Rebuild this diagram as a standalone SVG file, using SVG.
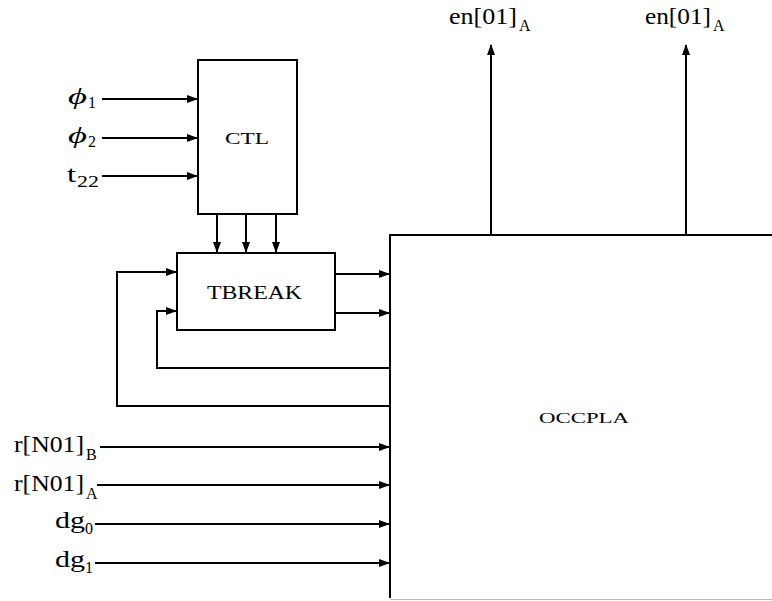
<svg xmlns="http://www.w3.org/2000/svg" width="772" height="601" viewBox="0 0 772 601">
<style>
.box{fill:#fff;stroke:#000;stroke-width:2}
.w{fill:none;stroke:#000;stroke-width:2}
.a{fill:none;stroke:#000;stroke-width:2;marker-end:url(#ah)}
text{font-family:"Liberation Serif","DejaVu Serif",serif;fill:#000}
.lbl{font-size:23px}
.sub{font-size:16px}
.nm{font-size:16px}
</style>
<defs>
<marker id="ah" markerUnits="userSpaceOnUse" markerWidth="11" markerHeight="8" refX="10" refY="4" orient="auto">
<path d="M0,0 L11,4 L0,8 z" fill="#000"/>
</marker>
</defs>
<rect width="772" height="601" fill="#fff"/>
<g id="connectors">
<path class="a" d="M102,99 H197"/>
<path class="a" d="M102,138 H197"/>
<path class="a" d="M102,176 H197"/>
<path class="a" d="M217,214 V252"/>
<path class="a" d="M246,214 V252"/>
<path class="a" d="M276,214 V252"/>
<path class="a" d="M335,274 H389"/>
<path class="a" d="M335,313 H389"/>
<path class="a" d="M390,406 H117 V272 H176"/>
<path class="a" d="M390,368 H157 V311 H176"/>
<path class="a" d="M100,447 H389"/>
<path class="a" d="M97,485 H389"/>
<path class="a" d="M95,524 H389"/>
<path class="a" d="M95,563 H389"/>
<path class="a" d="M491,235 V45"/>
<path class="a" d="M686,235 V45"/>
</g>
<g id="CTL">
<rect class="box" x="198" y="60" width="99" height="154"/>
<text class="nm" x="225" y="144" textLength="44" lengthAdjust="spacingAndGlyphs">CTL</text>
</g>
<g id="TBREAK">
<rect class="box" x="177" y="253" width="158" height="77"/>
<text x="207" y="299" font-size="19" textLength="95" lengthAdjust="spacingAndGlyphs">TBREAK</text>
</g>
<g id="OCCPLA">
<path class="w" d="M390,598 V235 H772"/>
<path d="M390,599.5 H772" stroke="#bbb" stroke-width="1" fill="none"/>
<text x="539" y="423" font-size="15" textLength="90" lengthAdjust="spacingAndGlyphs">OCCPLA</text>
</g>
<g id="labels">
<text class="lbl" x="68" y="104" font-style="italic" textLength="19" lengthAdjust="spacingAndGlyphs">ϕ</text><text class="sub" x="88" y="108">1</text>
<text class="lbl" x="68" y="143" font-style="italic" textLength="19" lengthAdjust="spacingAndGlyphs">ϕ</text><text class="sub" x="88" y="147">2</text>
<text class="lbl" x="67" y="182" textLength="9" lengthAdjust="spacingAndGlyphs">t</text><text class="sub" x="77" y="187" textLength="22" lengthAdjust="spacingAndGlyphs">22</text>
<text class="lbl" x="14" y="452" textLength="70" lengthAdjust="spacingAndGlyphs">r[N01]</text><text class="sub" x="86" y="460">B</text>
<text class="lbl" x="14" y="491" textLength="70" lengthAdjust="spacingAndGlyphs">r[N01]</text><text class="sub" x="86" y="499">A</text>
<text class="lbl" x="55" y="528" textLength="30" lengthAdjust="spacingAndGlyphs">dg</text><text class="sub" x="85" y="534">0</text>
<text class="lbl" x="55" y="567" textLength="30" lengthAdjust="spacingAndGlyphs">dg</text><text class="sub" x="85" y="573">1</text>
<text class="lbl" x="449" y="24" textLength="68" lengthAdjust="spacingAndGlyphs">en[01]</text><text class="sub" x="519" y="31">A</text>
<text class="lbl" x="645" y="24" textLength="66" lengthAdjust="spacingAndGlyphs">en[01]</text><text class="sub" x="713" y="31">A</text>
</g>
</svg>
